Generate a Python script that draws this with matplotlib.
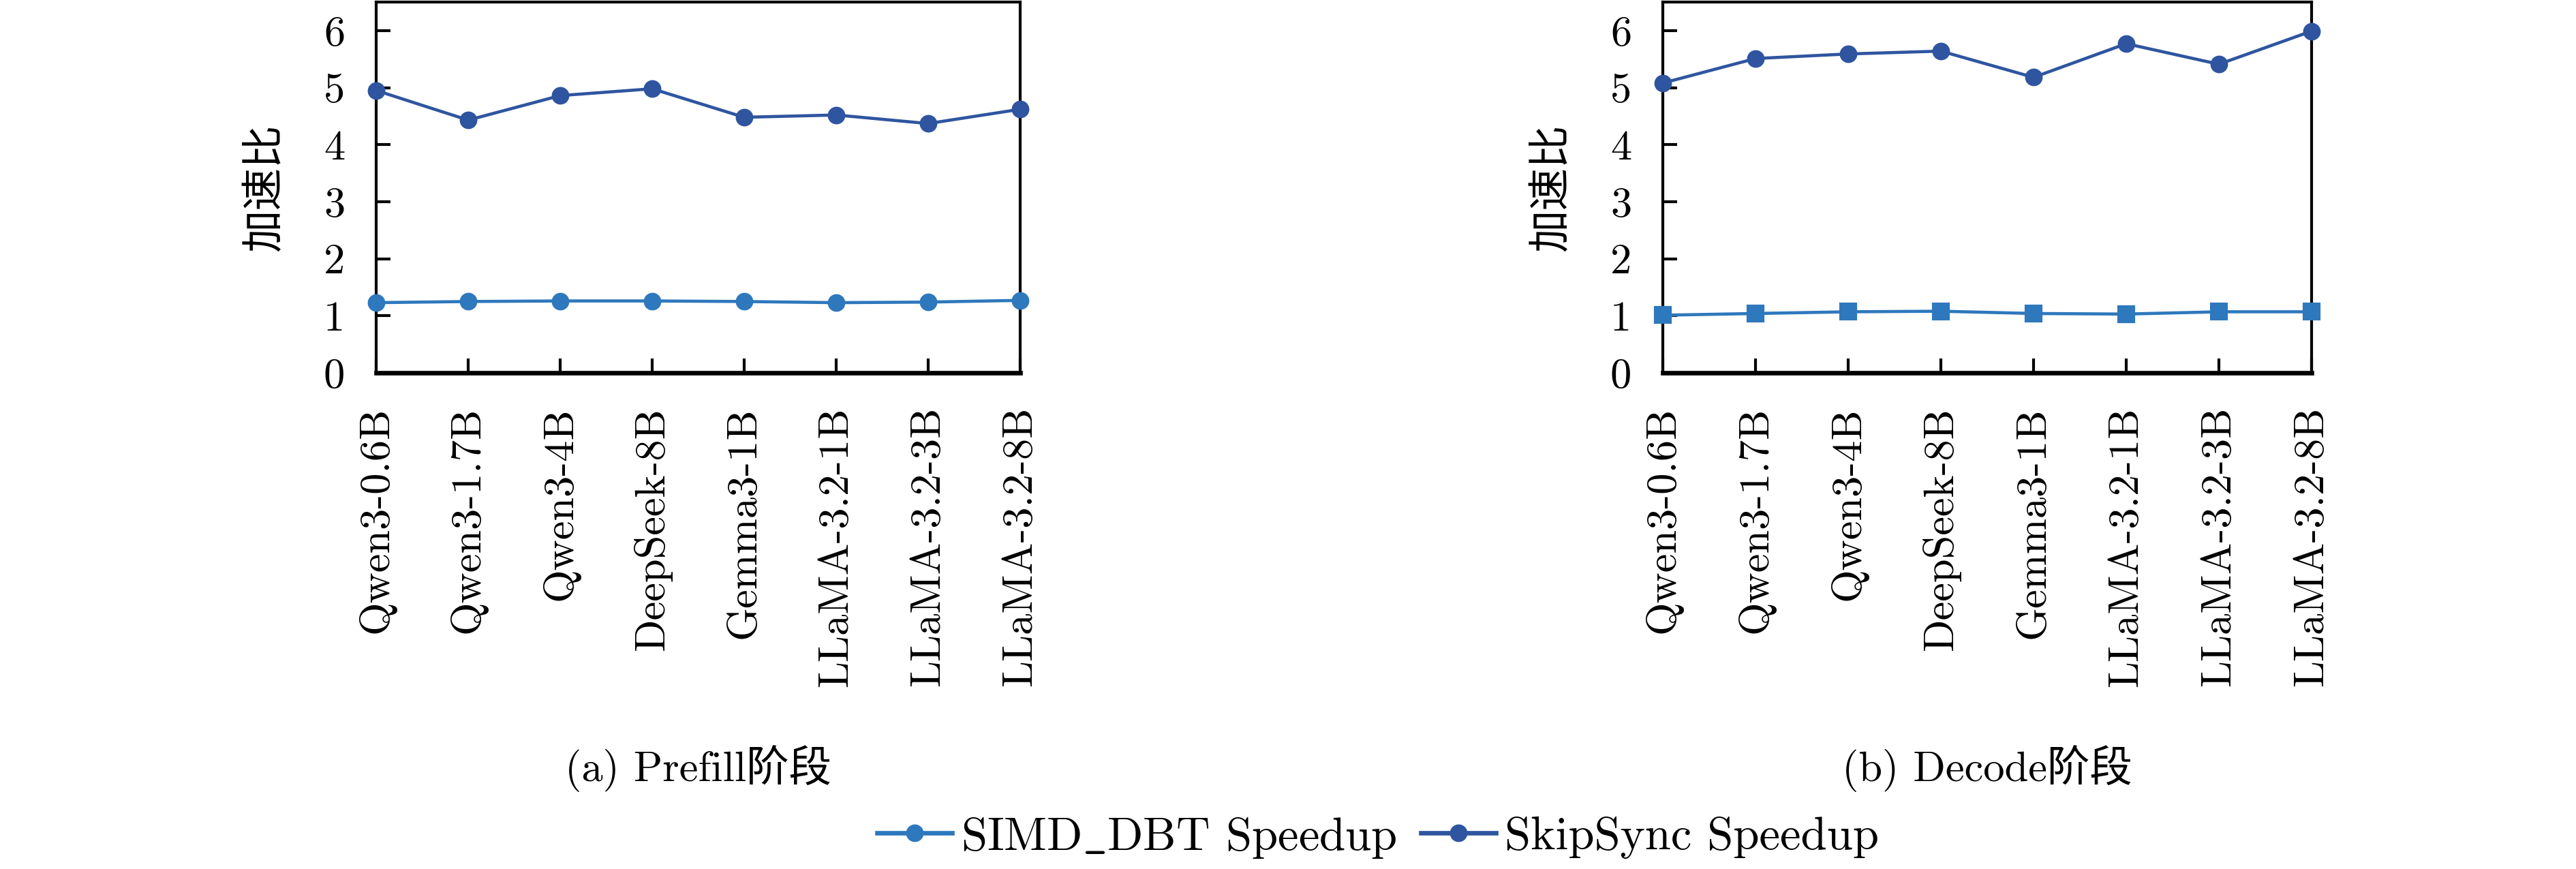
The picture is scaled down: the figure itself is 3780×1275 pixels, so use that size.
import matplotlib
matplotlib.use("Agg")
import matplotlib.pyplot as plt
from matplotlib.lines import Line2D

plt.rcParams['font.family'] = ['cmr10', 'Noto Sans CJK SC', 'DejaVu Sans']
plt.rcParams['mathtext.fontset'] = 'cm'
plt.rcParams['axes.formatter.use_mathtext'] = True
plt.rcParams['axes.unicode_minus'] = False

models = ["Qwen3-0.6B", "Qwen3-1.7B", "Qwen3-4B", "DeepSeek-8B", "Gemma3-1B",
          "LLaMA-3.2-1B", "LLaMA-3.2-3B", "LLaMA-3.2-8B"]
prefill_simd = [1.23, 1.25, 1.26, 1.26, 1.25, 1.23, 1.24, 1.27]
prefill_skip = [4.95, 4.43, 4.86, 4.98, 4.48, 4.52, 4.37, 4.62]
decode_simd = [1.01, 1.04, 1.07, 1.08, 1.04, 1.03, 1.07, 1.07]
decode_skip = [5.08, 5.51, 5.59, 5.64, 5.18, 5.77, 5.41, 5.99]
yticks = [0, 1, 2, 3, 4, 5, 6]
captions = ["(a) Prefill阶段", "(b) Decode阶段"]
ylabel = "加速比"
legend_labels = [r"SIMD$\_$DBT Speedup", "SkipSync Speedup"]

c_simd = "#2E78BD"
c_skip = "#2F55A0"

W, H = 3780, 1275
fig = plt.figure(figsize=(W / 300, H / 300), dpi=300)

boxes = [(552, 1497), (2440, 3392)]
top, bottom = 3, 547
panels = [(prefill_simd, prefill_skip, 'o'), (decode_simd, decode_skip, 's')]

for (l, r), (simd, skip, m1), cap in zip(boxes, panels, captions):
    ax = fig.add_axes([l / W, 1 - bottom / H, (r - l) / W, (bottom - top) / H])
    x = list(range(len(models)))
    ax.plot(x, simd, color=c_simd, marker=m1, markersize=5.2, lw=1.1, clip_on=False, zorder=3)
    ax.plot(x, skip, color=c_skip, marker='o', markersize=5.2, lw=1.1, clip_on=False, zorder=3)
    ax.set_xlim(0, len(models) - 1)
    ax.set_ylim(0, 6.5)
    ax.set_yticks(yticks)
    ax.set_yticklabels([str(t) for t in yticks])
    ax.set_xticks(x)
    ax.set_xticklabels(models, rotation=90)
    ax.tick_params(axis='both', direction='in', length=5, width=1.0, labelsize=15)
    ax.tick_params(axis='y', pad=11)
    ax.tick_params(axis='x', pad=12)
    for s in ax.spines.values():
        s.set_linewidth(1.0)
    ax.spines['bottom'].set_linewidth(1.6)
    ax.set_ylabel(ylabel, fontsize=15, family=['Noto Sans CJK SC'], labelpad=13)
    fig.text((l + r) / 2 / W, 1 - 1128 / H, cap, ha='center', va='center', fontsize=15)

handles = [Line2D([], [], color=c_simd, marker='o', markersize=5.2, lw=1.6),
           Line2D([], [], color=c_skip, marker='o', markersize=5.2, lw=1.6)]
fig.legend(handles, legend_labels, loc='center', bbox_to_anchor=(2022 / W, 1 - 1229 / H),
           ncol=2, frameon=False, fontsize=16.5, handlelength=1.6, handletextpad=0.2,
           columnspacing=0.5)

fig.savefig("out.png", dpi=300)
